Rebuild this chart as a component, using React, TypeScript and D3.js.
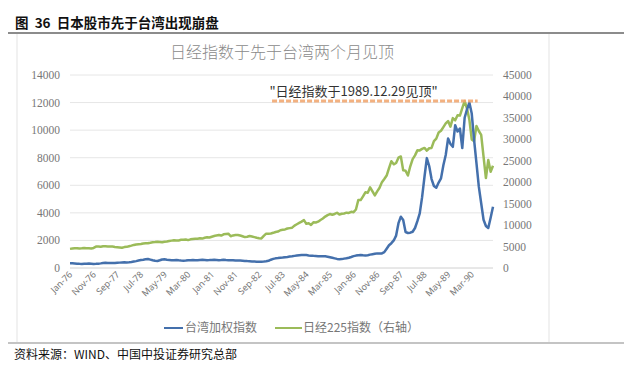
import * as d3 from "d3";

// month index 0 = Jan-76, one label every 10 months
const xLabels = [
  "Jan-76", "Nov-76", "Sep-77", "Jul-78", "May-79", "Mar-80", "Jan-81", "Nov-81", "Sep-82",
  "Jul-83", "May-84", "Mar-85", "Jan-86", "Nov-86", "Sep-87", "Jul-88", "May-89", "Mar-90",
];

// 台湾加权指数, monthly, Jan-76 .. Dec-90
const taiex = [
  340, 345, 330, 315, 300, 295, 305, 310, 320, 305, 290, 300,
  315, 335, 360, 380, 370, 360, 355, 365, 380, 390, 400, 410,
  405, 415, 430, 465, 500, 540, 575, 600, 630, 655, 610, 560,
  520, 510, 560, 620, 630, 600, 585, 570, 560, 575, 555, 540,
  530, 540, 555, 565, 575, 560, 570, 585, 590, 580, 570, 575,
  585, 590, 580, 570, 580, 595, 580, 570, 560, 565, 550, 550,
  540, 530, 515, 500, 490, 480, 470, 460, 455, 460, 470, 485,
  520, 600, 660, 700, 720, 745, 760, 780, 800, 830, 850, 880,
  905, 925, 940, 950, 935, 910, 895, 880, 870, 860, 850, 860,
  845, 820, 780, 740, 700, 660, 640, 645, 680, 705, 745, 800,
  860, 900, 930, 945, 920, 905, 930, 970, 1000, 1030, 1060, 1045,
  1060, 1150, 1400, 1650, 1800, 2000, 2350, 3250, 3720, 3480, 2610, 2540,
  2560, 2630, 2900, 3400, 3960, 5140, 6600, 7970, 7400, 6450, 5950, 5820,
  6200, 6500, 7460, 8200, 9400, 9000, 8790, 10360, 9900, 10120, 8700, 10900,
  11500, 12000, 11200, 9300, 7600, 5900, 4700, 3500, 3050, 2900, 3650, 4440,
];

// 日经225指数 (右轴), monthly, Jan-76 .. Dec-90
const nikkei = [
  4460, 4540, 4600, 4620, 4540, 4580, 4660, 4620, 4580, 4540, 4680, 4990,
  5000, 4960, 5060, 5050, 5020, 5040, 5010, 4900, 4850, 4800, 4720, 4870,
  4930, 5080, 5210, 5380, 5470, 5530, 5600, 5700, 5750, 5780, 5880, 6000,
  6040, 6100, 6070, 5990, 6120, 6180, 6300, 6380, 6460, 6410, 6430, 6570,
  6580, 6650, 6500, 6680, 6770, 6840, 6830, 6940, 6860, 7050, 7180, 7120,
  7300, 7450, 7600, 7700, 7560, 7850, 7950, 8010, 7400, 7600, 7700, 7680,
  7580, 7400, 7200, 7300, 7450, 7340, 7200, 7050, 6960, 6900, 7500, 8010,
  8000, 8050, 8200, 8400, 8500, 8800, 8900, 9000, 9200, 9300, 9400, 9890,
  10200, 10500, 10800, 11150, 10300, 10450, 10050, 10650, 10600, 10800, 11200, 11540,
  11990, 12320, 12580, 12430, 12600, 12880, 12460, 12640, 12720, 12900, 12840, 13110,
  13020, 13640, 15860, 15830, 16700, 17650, 17570, 18820, 17850, 16910, 17850, 18700,
  20020, 20770, 21560, 23270, 24900, 24180, 24490, 25720, 26010, 22770, 22690, 21560,
  23720, 25400, 26260, 27430, 27420, 27770, 28000, 27370, 27920, 27990, 29580, 30160,
  31580, 31990, 32840, 33710, 34270, 32950, 34950, 34430, 35640, 35550, 37270, 38920,
  37190, 34590, 29980, 29580, 33130, 31940, 31040, 25980, 20980, 25190, 22450, 23850,
];

const leftTicks = [0, 2000, 4000, 6000, 8000, 10000, 12000, 14000];
const rightTicks = [0, 5000, 10000, 15000, 20000, 25000, 30000, 35000, 40000, 45000];

const peakValue = 38920; // 1989.12.29
const peakSpan = [85.5, 172.5];

const BLUE = "#4470ac";
const GREEN = "#9bbb59";
const numFont = "'Liberation Serif', serif";
const cjk = "'Noto Sans CJK SC', sans-serif";

export default function App() {
  const width = 640;
  const height = 370;
  const plot = { left: 70, right: 493, top: 75, bottom: 268 };

  const x = d3.scaleLinear().domain([0, taiex.length - 1]).range([plot.left, plot.right]);
  const yL = d3.scaleLinear().domain([0, 14000]).range([plot.bottom, plot.top]);
  const yR = d3.scaleLinear().domain([0, 45000]).range([plot.bottom, plot.top]);

  const lineL = d3.line<number>().x((_, i) => x(i)).y((d) => yL(d));
  const lineR = d3.line<number>().x((_, i) => x(i)).y((d) => yR(d));

  return (
    <svg width={width} height={height} style={{ position: "absolute", left: 0, top: 0, background: "#fff" }}>
      {/* header */}
      <text x={15} y={28} fontFamily={cjk} fontWeight={700} fontSize={13.5} fill="#111" style={{ whiteSpace: "pre" }}>
        {"图  36  日本股市先于台湾出现崩盘"}
      </text>
      <line x1={8} x2={624} y1={33} y2={33} stroke="#8c8c8c" strokeWidth={2} />

      {/* chart frame */}
      <line x1={17} x2={17} y1={34} y2={342} stroke="#e3e3e3" />
      <line x1={549} x2={549} y1={34} y2={342} stroke="#e3e3e3" />
      <line x1={8} x2={624} y1={343} y2={343} stroke="#c4c4c4" strokeWidth={2} />

      <text x={282} y={58} textAnchor="middle" fontFamily={cjk} fontSize={16} fontWeight={300} fill="#8a8a8a">
        日经指数于先于台湾两个月见顶
      </text>

      {/* grid + left axis */}
      {leftTicks.map((t) => (
        <g key={"l" + t}>
          <line x1={plot.left} x2={plot.right} y1={yL(t)} y2={yL(t)} stroke={t === 0 ? "#d0d0d0" : "#e6e6e6"} />
          <text x={60} y={yL(t) + 4} textAnchor="end" fontFamily={numFont} fontSize={11.5} fill="#777">
            {t}
          </text>
        </g>
      ))}
      {rightTicks.map((t) => (
        <text key={"r" + t} x={503} y={yR(t) + 4} fontFamily={numFont} fontSize={11.5} fill="#777">
          {t}
        </text>
      ))}

      {/* x axis labels */}
      {xLabels.map((l, k) => (
        <text
          key={l}
          transform={`translate(${x(k * 10) + 3},${plot.bottom + 7}) rotate(-45)`}
          textAnchor="end"
          fontFamily="'Noto Sans', sans-serif"
          fontSize={9}
          fill="#777"
        >
          {l}
        </text>
      ))}

      {/* series */}
      <path d={lineR(nikkei) ?? ""} fill="none" stroke={GREEN} strokeWidth={2.5} strokeLinejoin="round" />
      <path d={lineL(taiex) ?? ""} fill="none" stroke={BLUE} strokeWidth={2.5} strokeLinejoin="round" />

      {/* annotation */}
      <line
        x1={x(peakSpan[0])}
        x2={x(peakSpan[1])}
        y1={yR(peakValue)}
        y2={yR(peakValue)}
        stroke="#f2a46a"
        strokeWidth={3}
        strokeDasharray="5,2"
        opacity={0.85}
      />
      <text x={x(120)} y={yR(peakValue) - 5} textAnchor="middle" fontFamily={cjk} fontSize={13} fill="#333">
        "日经指数于1989.12.29见顶"
      </text>

      {/* legend */}
      <line x1={164} x2={183} y1={328} y2={328} stroke={BLUE} strokeWidth={2} />
      <text x={185} y={332} fontFamily={cjk} fontSize={12} fill="#777">
        台湾加权指数
      </text>
      <line x1={275} x2={302} y1={328} y2={328} stroke={GREEN} strokeWidth={2} />
      <text x={303} y={332} fontFamily={cjk} fontSize={12} fill="#777">
        日经225指数（右轴）
      </text>

      {/* source */}
      <text x={14} y={359} fontFamily={cjk} fontSize={12} fill="#111">
        资料来源：WIND、中国中投证券研究总部
      </text>
    </svg>
  );
}
